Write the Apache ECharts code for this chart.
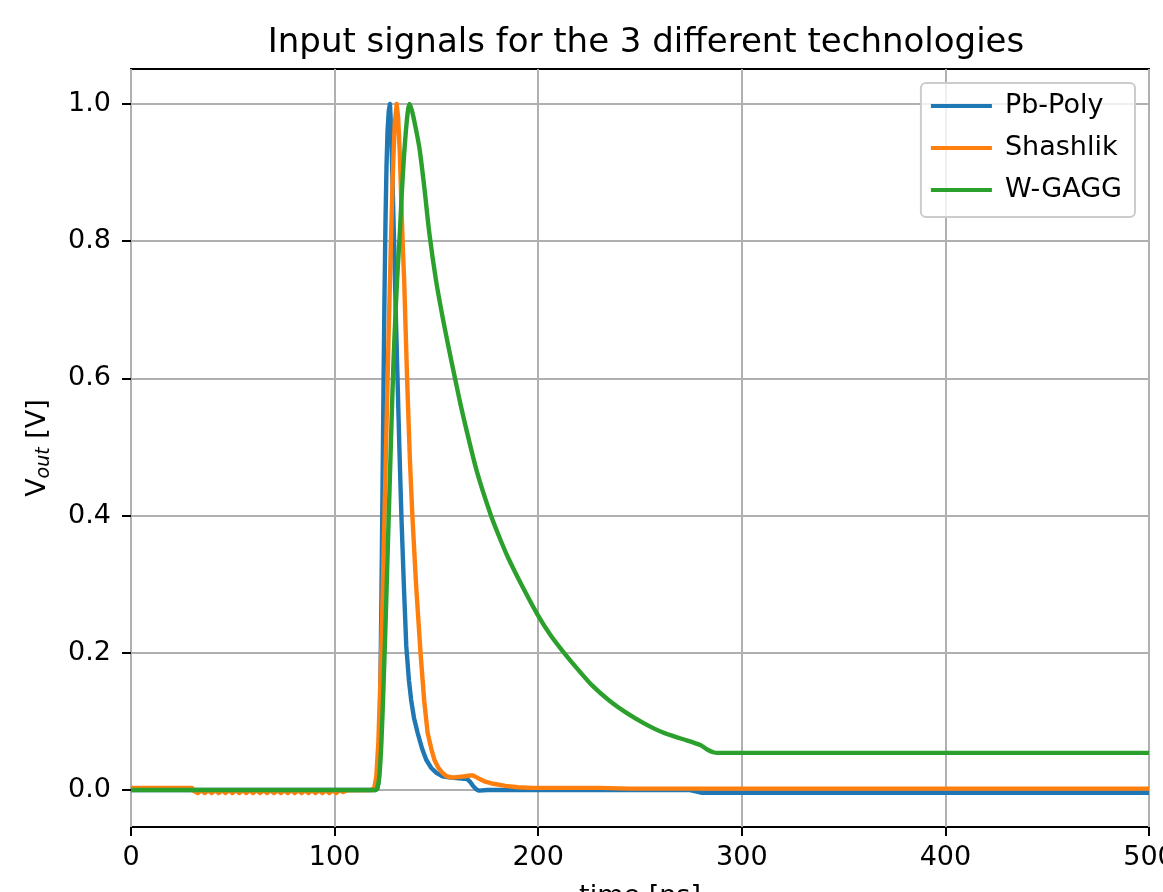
<!DOCTYPE html>
<html>
<head>
<meta charset="utf-8">
<title>Input signals</title>
<script src="https://cdn.jsdelivr.net/npm/echarts@6/dist/echarts.min.js"></script>
<style>
  html, body { margin: 0; padding: 0; background: #fff; }
  #chart { width: 1163px; height: 892px; }
</style>
</head>
<body>
<div id="chart"></div>
<script>
// 曲线数据 [time ns, Vout V]
const pbPoly = [
  [0, 0], [120, 0], [121, 0.002], [121.5, 0.01], [122, 0.06], [122.5, 0.15], [123, 0.28],
  [123.5, 0.43], [124, 0.58], [124.5, 0.72], [125, 0.83], [125.5, 0.91], [126, 0.96],
  [126.6, 0.99], [127.2, 1.0], [127.8, 0.96], [128.5, 0.88], [129.2, 0.8], [130, 0.7],
  [130.9, 0.6], [131.8, 0.5], [132.8, 0.4], [134, 0.3], [135.2, 0.21], [136.5, 0.16],
  [137.6, 0.131], [139, 0.105], [140.8, 0.083], [143, 0.06], [145, 0.044], [147.5, 0.032],
  [150, 0.025], [153, 0.02], [157, 0.018], [161, 0.017], [165, 0.016], [166.5, 0.012],
  [168, 0.006], [169.5, 0.001], [171, -0.001], [175, 0], [200, 0], [240, 0], [274, 0],
  [280, -0.004], [500, -0.004]
]
const shashlik = [
  [0, 0.003], [30, 0.003], [30.5, -0.001], [32.8, -0.0045], [34.5, -0.0005], [36.2, -0.0045],
  [37.9, -0.0005], [39.6, -0.0045], [41.3, -0.0005], [43, -0.0045], [44.7, -0.0005],
  [46.4, -0.0045], [48.1, -0.0005], [49.8, -0.0045], [51.5, -0.0005], [53.2, -0.0045],
  [54.9, -0.0005], [56.6, -0.0045], [58.3, -0.0005], [60, -0.0045], [61.7, -0.0005],
  [63.4, -0.0045], [65.1, -0.0005], [66.8, -0.0045], [68.5, -0.0005], [70.2, -0.0045],
  [71.9, -0.0005], [73.6, -0.0045], [75.3, -0.0005], [77, -0.0045], [78.7, -0.0005],
  [80.4, -0.0045], [82.1, -0.0005], [83.8, -0.0045], [85.5, -0.0005], [87.2, -0.0045],
  [88.9, -0.0005], [90.6, -0.0045], [92.3, -0.0005], [94, -0.0045], [95.7, -0.0005],
  [97.4, -0.0045], [99.1, -0.0005], [100.8, -0.0045], [102.5, -0.0005], [104.2, -0.003],
  [106, -0.0005], [118, 0], [119.5, 0.003], [120.5, 0.02], [121.5, 0.07], [122.5, 0.16],
  [123.5, 0.27], [124.5, 0.4], [125.5, 0.53], [126.5, 0.66], [127.5, 0.78], [128.5, 0.89],
  [129.5, 0.97], [130.5, 1.0], [131.2, 0.98], [132, 0.93], [133.4, 0.8], [134.2, 0.74],
  [135.6, 0.6], [137, 0.48], [138.2, 0.4], [140, 0.3], [142.2, 0.2], [144, 0.13],
  [145.7, 0.083], [147.5, 0.06], [149, 0.044], [151, 0.032], [153, 0.025], [155, 0.02],
  [158, 0.018], [161, 0.019], [164, 0.02], [166.5, 0.021], [168, 0.021], [170, 0.018],
  [172, 0.015], [174, 0.012], [178, 0.009], [184, 0.006], [190, 0.004], [197, 0.003],
  [230, 0.003], [245, 0.002], [500, 0.002]
]
const wGagg = [
  [0, 0], [120, 0], [121, 0.003], [122, 0.02], [123, 0.07], [124, 0.15], [125, 0.24],
  [126, 0.34], [127, 0.44], [128, 0.54], [129, 0.63], [130, 0.7], [131, 0.76], [132, 0.81],
  [133, 0.87], [134, 0.92], [135, 0.96], [136, 0.99], [136.8, 1.0], [138, 0.99],
  [139.5, 0.97], [141.7, 0.935], [144, 0.88], [146.6, 0.81], [149.8, 0.743], [153, 0.69],
  [156, 0.645], [158.8, 0.605], [162, 0.56], [165, 0.522], [170, 0.463], [176.8, 0.4],
  [181, 0.368], [185, 0.34], [192, 0.298], [199.6, 0.256], [206, 0.226], [212.7, 0.2],
  [220, 0.174], [226.6, 0.152], [235, 0.13], [243, 0.113], [252, 0.097], [261, 0.084],
  [270, 0.075], [277.3, 0.068], [280, 0.065], [283, 0.059], [286, 0.055], [288, 0.054],
  [500, 0.054]
]
const seriesNames = ['Pb-Poly', 'Shashlik', 'W-GAGG']
const seriesColors = ['#1f77b4', '#ff7f0e', '#2ca02c']

const FONT = 'DejaVu Sans'
const gridLine = { show: true, lineStyle: { color: '#b0b0b0', width: 2 } }
const tick = { show: true, inside: false, length: 9, lineStyle: { color: '#000', width: 2 } }

const chart = echarts.init(document.getElementById('chart'), null, { renderer: 'canvas' })
chart.setOption({
  animation: false,
  backgroundColor: '#fff',
  textStyle: { fontFamily: FONT },
  title: {
    text: 'Input signals for the 3 different technologies',
    left: 641,
    textAlign: 'center',
    top: 21,
    textStyle: { fontFamily: FONT, fontSize: 34, fontWeight: 'normal', color: '#000' }
  },
  legend: {
    data: seriesNames,
    orient: 'vertical',
    right: 28,
    top: 83,
    icon: 'rect',
    itemWidth: 61,
    itemHeight: 4,
    itemGap: 12,
    padding: [8, 13, 12, 10],
    backgroundColor: 'rgba(255,255,255,0.8)',
    borderColor: '#cccccc',
    borderWidth: 2,
    borderRadius: 5,
    textStyle: { fontFamily: FONT, fontSize: 27, lineHeight: 30, color: '#000', padding: [0, 0, 0, 8] }
  },
  grid: [
    { left: 131, right: 14, top: 69, bottom: 65, outerBoundsMode: 'none', containLabel: false,
      show: true, borderColor: '#000', borderWidth: 2 },
    { left: 131, right: 14, top: 104, bottom: 102, outerBoundsMode: 'none', containLabel: false }
  ],
  xAxis: [{
    gridIndex: 0,
    type: 'value',
    min: 0,
    max: 500,
    interval: 100,
    axisLine: { show: false, onZero: false },
    axisTick: tick,
    axisLabel: { fontFamily: FONT, fontSize: 27, color: '#000', margin: 17 },
    splitLine: gridLine,
    name: 'time [ns]',
    nameLocation: 'middle',
    nameGap: 56,
    nameTextStyle: { fontFamily: FONT, fontSize: 27, color: '#000' }
  }, {
    gridIndex: 1,
    type: 'value',
    min: 0,
    max: 500,
    show: false
  }],
  yAxis: [{
    gridIndex: 0,
    type: 'value',
    min: -0.054,
    max: 1.051,
    axisLine: { show: false, onZero: false },
    axisTick: { show: false },
    axisLabel: { show: false },
    splitLine: { show: false },
    name: '{a|V}{b|out}{a| [V]}',
    nameLocation: 'middle',
    nameGap: 76,
    nameRotate: 90,
    nameTextStyle: {
      color: '#000',
      rich: {
        a: { fontFamily: FONT, fontSize: 27, color: '#000', lineHeight: 34 },
        b: { fontFamily: FONT, fontSize: 19, fontStyle: 'italic', color: '#000', lineHeight: 34, padding: [12, 0, 0, 0] }
      }
    }
  }, {
    gridIndex: 1,
    type: 'value',
    min: 0,
    max: 1,
    interval: 0.2,
    axisLine: { show: false, onZero: false },
    axisTick: tick,
    axisLabel: { fontFamily: FONT, fontSize: 27, color: '#000', margin: 20, formatter: v => v.toFixed(1) },
    splitLine: gridLine
  }],
  series: [pbPoly, shashlik, wGagg].map((data, i) => ({
    name: seriesNames[i],
    type: 'line',
    xAxisIndex: 0,
    yAxisIndex: 0,
    data: data,
    symbol: 'none',
    showSymbol: false,
    // 只有 W-GAGG 的衰减曲线做平滑
    smooth: i === 2 ? 0.3 : false,
    color: seriesColors[i],
    lineStyle: { width: 4.4, color: seriesColors[i], join: 'round' },
    z: 3 + i
  }))
})
</script>
</body>
</html>
